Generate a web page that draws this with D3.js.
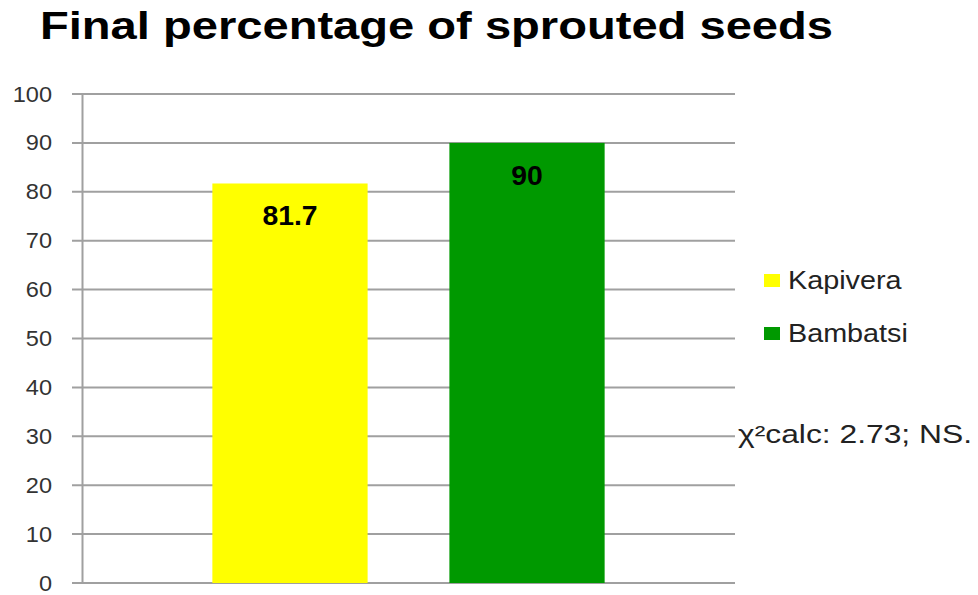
<!DOCTYPE html>
<html>
<head>
<meta charset="utf-8">
<script src="https://cdn.jsdelivr.net/npm/d3@7"></script>
<style>
    body { margin: 0; background: #fff; }
    svg { font-family: "Liberation Sans", Arial, sans-serif; }
</style>
</head>
<body>
<svg id="chart" width="978" height="595"></svg>
<script>
const series = ["Kapivera", "Bambatsi"];
const values = [81.7, 90];
const colors = ["#ffff00", "#009900"];
const yTicks = [0, 10, 20, 30, 40, 50, 60, 70, 80, 90, 100];
const note = "χ²calc: 2.73; NS.";

const svg = d3.select("#chart");
const margin = { top: 94, right: 243, bottom: 12, left: 82 };
const width = 978;
const height = 595;

// the source picture is stretched sideways a little, so text gets widened
function stretch(sel, factor) {
    sel.each(function () {
        const w = this.getComputedTextLength();
        d3.select(this)
            .attr("textLength", w * factor)
            .attr("lengthAdjust", "spacingAndGlyphs");
    });
}

const x = d3.scaleBand()
    .domain(series)
    .range([margin.left, width - margin.right])
    .paddingInner(0.345)
    .paddingOuter(0.55);

const y = d3.scaleLinear()
    .domain([0, 100])
    .range([height - margin.bottom, margin.top]);

svg.append("text")
    .attr("x", 40)
    .attr("y", 39)
    .attr("font-size", 39)
    .attr("font-weight", "bold")
    .attr("fill", "#000")
    .text("Final percentage of sprouted seeds")
    .attr("textLength", 793)
    .attr("lengthAdjust", "spacingAndGlyphs");

// gridlines
svg.append("g")
    .selectAll("line")
    .data(yTicks)
    .join("line")
    .attr("x1", margin.left - 10)
    .attr("x2", width - margin.right)
    .attr("y1", (d) => y(d))
    .attr("y2", (d) => y(d))
    .attr("stroke", "#a0a0a0")
    .attr("stroke-width", 2);

svg.append("g")
    .attr("transform", `translate(${margin.left},0)`)
    .call(d3.axisLeft(y).tickValues(yTicks).tickSize(0).tickPadding(30))
    .call((g) => g.select(".domain").attr("stroke", "#a0a0a0").attr("stroke-width", 2))
    .call((g) => g.selectAll("text")
        .attr("font-size", 22)
        .attr("fill", "#333")
        .attr("font-family", "Liberation Sans, Arial, sans-serif")
        .call(stretch, 1.07));

svg.append("g")
    .selectAll("rect")
    .data(values)
    .join("rect")
    .attr("x", (d, i) => x(series[i]))
    .attr("y", (d) => y(d))
    .attr("width", x.bandwidth())
    .attr("height", (d) => y(0) - y(d))
    .attr("fill", (d, i) => colors[i]);

svg.append("g")
    .selectAll("text")
    .data(values)
    .join("text")
    .attr("x", (d, i) => x(series[i]) + x.bandwidth() / 2)
    .attr("y", (d) => y(d) + 42)
    .attr("text-anchor", "middle")
    .attr("font-size", 27)
    .attr("font-weight", "bold")
    .attr("fill", "#000")
    .text((d) => d)
    .call(stretch, 1.05);

const legend = svg.append("g")
    .selectAll("g")
    .data(series)
    .join("g")
    .attr("transform", (d, i) => `translate(764,${280 + i * 53})`);

legend.append("rect")
    .attr("x", 0)
    .attr("y", -6)
    .attr("width", 16)
    .attr("height", 13)
    .attr("fill", (d, i) => colors[i]);

legend.append("text")
    .attr("x", 24)
    .attr("y", 9)
    .attr("font-size", 25)
    .attr("fill", "#222")
    .text((d) => d)
    .call(stretch, 1.15);

svg.append("text")
    .attr("x", 738)
    .attr("y", 443)
    .attr("font-size", 26)
    .attr("fill", "#222")
    .text(note)
    .attr("textLength", 234)
    .attr("lengthAdjust", "spacingAndGlyphs");
</script>
</body>
</html>
